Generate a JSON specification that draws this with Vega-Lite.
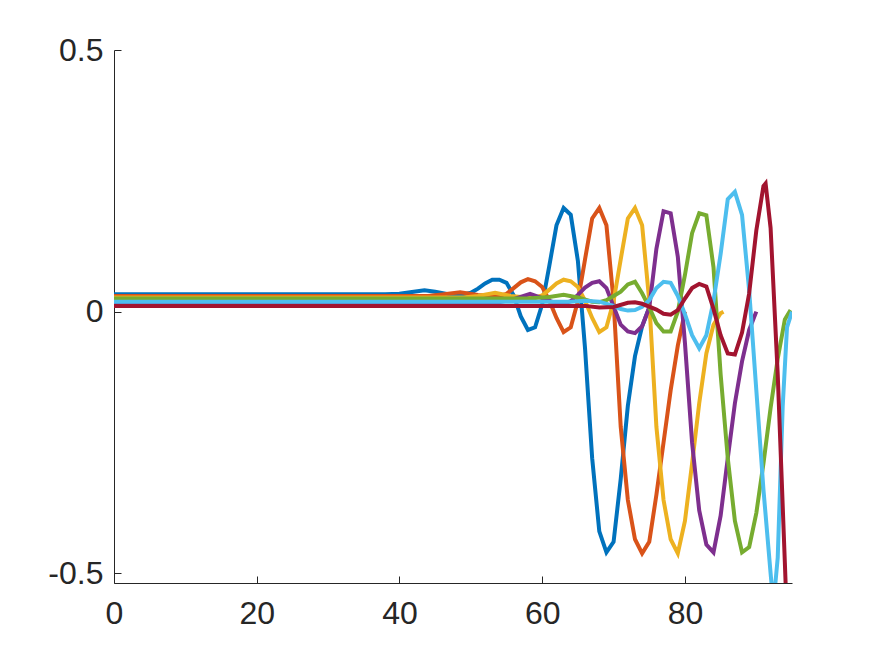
{
  "$schema": "https://vega.github.io/schema/vega-lite/v6.json",
  "autosize": "none",
  "width": 678,
  "height": 533,
  "padding": {"left": 114, "top": 50, "right": 83, "bottom": 73},
  "background": "white",
  "config": {"view": {"stroke": null}, "font": "Liberation Sans"},
  "datasets": {
    "pts": [
      {"s":"1","x":0,"y":0.033},{"s":"1","x":38,"y":0.033},{"s":"1","x":40,"y":0.034},{"s":"1","x":42,"y":0.038},{"s":"1","x":43.5,"y":0.041},{"s":"1","x":45,"y":0.038},{"s":"1","x":47,"y":0.033},{"s":"1","x":49,"y":0.033},{"s":"1","x":50,"y":0.036},{"s":"1","x":51,"y":0.044},{"s":"1","x":52,"y":0.054},{"s":"1","x":53,"y":0.061},{"s":"1","x":54,"y":0.061},{"s":"1","x":55,"y":0.055},{"s":"1","x":56,"y":0.031},{"s":"1","x":57,"y":-0.009},{"s":"1","x":58,"y":-0.035},{"s":"1","x":59,"y":-0.03},{"s":"1","x":60,"y":0.014},{"s":"1","x":61,"y":0.088},{"s":"1","x":62,"y":0.165},{"s":"1","x":63,"y":0.198},{"s":"1","x":64,"y":0.185},{"s":"1","x":65,"y":0.097},{"s":"1","x":66,"y":-0.07},{"s":"1","x":67,"y":-0.28},{"s":"1","x":68,"y":-0.42},{"s":"1","x":69,"y":-0.46},{"s":"1","x":70,"y":-0.44},{"s":"1","x":71,"y":-0.32},{"s":"1","x":72,"y":-0.18},{"s":"1","x":73,"y":-0.085},{"s":"1","x":74,"y":-0.028},{"s":"1","x":75,"y":0.008},
      {"s":"2","x":0,"y":0.030},{"s":"2","x":44,"y":0.030},{"s":"2","x":46,"y":0.033},{"s":"2","x":48.5,"y":0.037},{"s":"2","x":51,"y":0.032},{"s":"2","x":53,"y":0.030},{"s":"2","x":54,"y":0.030},{"s":"2","x":55,"y":0.034},{"s":"2","x":56,"y":0.045},{"s":"2","x":57,"y":0.056},{"s":"2","x":58,"y":0.062},{"s":"2","x":59,"y":0.058},{"s":"2","x":60,"y":0.047},{"s":"2","x":61,"y":0.021},{"s":"2","x":62,"y":-0.012},{"s":"2","x":63,"y":-0.039},{"s":"2","x":64,"y":-0.03},{"s":"2","x":65,"y":0.02},{"s":"2","x":66,"y":0.10},{"s":"2","x":67,"y":0.178},{"s":"2","x":68,"y":0.198},{"s":"2","x":69,"y":0.165},{"s":"2","x":70,"y":0.02},{"s":"2","x":71,"y":-0.22},{"s":"2","x":72,"y":-0.36},{"s":"2","x":73,"y":-0.435},{"s":"2","x":74,"y":-0.462},{"s":"2","x":75,"y":-0.44},{"s":"2","x":76,"y":-0.35},{"s":"2","x":77,"y":-0.25},{"s":"2","x":78,"y":-0.15},{"s":"2","x":79,"y":-0.065},{"s":"2","x":80,"y":0.0},
      {"s":"3","x":0,"y":0.027},{"s":"3","x":49,"y":0.027},{"s":"3","x":51,"y":0.030},{"s":"3","x":53.4,"y":0.036},{"s":"3","x":55.5,"y":0.030},{"s":"3","x":58,"y":0.027},{"s":"3","x":59,"y":0.027},{"s":"3","x":60,"y":0.031},{"s":"3","x":61,"y":0.042},{"s":"3","x":62,"y":0.054},{"s":"3","x":63,"y":0.061},{"s":"3","x":64,"y":0.058},{"s":"3","x":65,"y":0.047},{"s":"3","x":66,"y":0.021},{"s":"3","x":67,"y":-0.012},{"s":"3","x":68,"y":-0.039},{"s":"3","x":69,"y":-0.03},{"s":"3","x":70,"y":0.02},{"s":"3","x":71,"y":0.10},{"s":"3","x":72,"y":0.178},{"s":"3","x":73,"y":0.198},{"s":"3","x":74,"y":0.165},{"s":"3","x":75,"y":0.02},{"s":"3","x":76,"y":-0.22},{"s":"3","x":77,"y":-0.36},{"s":"3","x":78,"y":-0.435},{"s":"3","x":79,"y":-0.462},{"s":"3","x":80,"y":-0.40},{"s":"3","x":81,"y":-0.29},{"s":"3","x":82,"y":-0.175},{"s":"3","x":83,"y":-0.08},{"s":"3","x":84,"y":-0.025},{"s":"3","x":85,"y":-0.003},{"s":"3","x":85.4,"y":0.0},
      {"s":"4","x":0,"y":0.017},{"s":"4","x":50,"y":0.017},{"s":"4","x":52,"y":0.019},{"s":"4","x":54,"y":0.018},{"s":"4","x":56,"y":0.024},{"s":"4","x":58.3,"y":0.034},{"s":"4","x":60,"y":0.026},{"s":"4","x":62,"y":0.016},{"s":"4","x":63,"y":0.015},{"s":"4","x":64,"y":0.020},{"s":"4","x":65,"y":0.032},{"s":"4","x":66,"y":0.046},{"s":"4","x":67,"y":0.055},{"s":"4","x":68,"y":0.058},{"s":"4","x":69,"y":0.045},{"s":"4","x":70,"y":0.01},{"s":"4","x":71,"y":-0.025},{"s":"4","x":72,"y":-0.038},{"s":"4","x":73,"y":-0.041},{"s":"4","x":74,"y":-0.028},{"s":"4","x":75,"y":0.008},{"s":"4","x":76,"y":0.12},{"s":"4","x":77,"y":0.192},{"s":"4","x":78,"y":0.188},{"s":"4","x":79,"y":0.105},{"s":"4","x":80,"y":-0.06},{"s":"4","x":81,"y":-0.25},{"s":"4","x":82,"y":-0.38},{"s":"4","x":83,"y":-0.445},{"s":"4","x":84,"y":-0.46},{"s":"4","x":85,"y":-0.39},{"s":"4","x":86,"y":-0.28},{"s":"4","x":87,"y":-0.175},{"s":"4","x":88,"y":-0.095},{"s":"4","x":89,"y":-0.035},{"s":"4","x":90,"y":0.0},
      {"s":"5","x":0,"y":0.025},{"s":"5","x":58,"y":0.025},{"s":"5","x":61,"y":0.028},{"s":"5","x":63,"y":0.032},{"s":"5","x":65,"y":0.027},{"s":"5","x":67,"y":0.019},{"s":"5","x":68,"y":0.018},{"s":"5","x":69,"y":0.022},{"s":"5","x":70,"y":0.030},{"s":"5","x":71,"y":0.038},{"s":"5","x":72,"y":0.052},{"s":"5","x":73,"y":0.057},{"s":"5","x":74,"y":0.035},{"s":"5","x":75,"y":0.008},{"s":"5","x":76,"y":-0.022},{"s":"5","x":77,"y":-0.038},{"s":"5","x":78,"y":-0.038},{"s":"5","x":79,"y":0.0},{"s":"5","x":80,"y":0.07},{"s":"5","x":81,"y":0.15},{"s":"5","x":82,"y":0.188},{"s":"5","x":83,"y":0.184},{"s":"5","x":84,"y":0.085},{"s":"5","x":85,"y":-0.12},{"s":"5","x":86,"y":-0.28},{"s":"5","x":87,"y":-0.40},{"s":"5","x":88,"y":-0.46},{"s":"5","x":89,"y":-0.45},{"s":"5","x":90,"y":-0.385},{"s":"5","x":91,"y":-0.29},{"s":"5","x":92,"y":-0.184},{"s":"5","x":93,"y":-0.09},{"s":"5","x":94,"y":-0.015},{"s":"5","x":94.8,"y":0.003},
      {"s":"6","x":0,"y":0.019},{"s":"6","x":64,"y":0.019},{"s":"6","x":66,"y":0.021},{"s":"6","x":68,"y":0.019},{"s":"6","x":70,"y":0.011},{"s":"6","x":71,"y":0.005},{"s":"6","x":72,"y":0.002},{"s":"6","x":73,"y":0.003},{"s":"6","x":74,"y":0.009},{"s":"6","x":75,"y":0.022},{"s":"6","x":76,"y":0.045},{"s":"6","x":77,"y":0.057},{"s":"6","x":78,"y":0.055},{"s":"6","x":79,"y":0.03},{"s":"6","x":80,"y":-0.005},{"s":"6","x":81,"y":-0.045},{"s":"6","x":82,"y":-0.070},{"s":"6","x":83,"y":-0.045},{"s":"6","x":84,"y":0.02},{"s":"6","x":85,"y":0.11},{"s":"6","x":86,"y":0.215},{"s":"6","x":87,"y":0.229},{"s":"6","x":88,"y":0.185},{"s":"6","x":89,"y":0.04},{"s":"6","x":90,"y":-0.15},{"s":"6","x":91,"y":-0.34},{"s":"6","x":92,"y":-0.50},{"s":"6","x":92.4,"y":-0.56},{"s":"6","x":93,"y":-0.47},{"s":"6","x":93.7,"y":-0.18},{"s":"6","x":94.3,"y":-0.03},{"s":"6","x":95,"y":0.0},
      {"s":"7","x":0,"y":0.011},{"s":"7","x":66,"y":0.011},{"s":"7","x":68,"y":0.008},{"s":"7","x":70,"y":0.009},{"s":"7","x":72,"y":0.017},{"s":"7","x":73,"y":0.018},{"s":"7","x":74,"y":0.015},{"s":"7","x":76,"y":0.004},{"s":"7","x":77,"y":-0.004},{"s":"7","x":78,"y":-0.006},{"s":"7","x":79,"y":0.003},{"s":"7","x":80,"y":0.025},{"s":"7","x":81,"y":0.045},{"s":"7","x":82,"y":0.053},{"s":"7","x":83,"y":0.048},{"s":"7","x":84,"y":0.005},{"s":"7","x":85,"y":-0.045},{"s":"7","x":86,"y":-0.08},{"s":"7","x":87,"y":-0.082},{"s":"7","x":88,"y":-0.04},{"s":"7","x":89,"y":0.035},{"s":"7","x":90,"y":0.155},{"s":"7","x":91,"y":0.24},{"s":"7","x":91.3,"y":0.245},{"s":"7","x":92,"y":0.16},{"s":"7","x":93,"y":-0.12},{"s":"7","x":94,"y":-0.48},{"s":"7","x":95,"y":-0.85}
    ]
  },
  "data": {"name": "pts"},
  "mark": {"type": "line", "strokeWidth": 4, "clip": true, "strokeJoin": "miter"},
  "encoding": {
    "x": {
      "field": "x", "type": "quantitative",
      "scale": {"domain": [0, 95], "nice": false, "zero": false},
      "axis": {
        "title": null, "values": [0, 20, 40, 60, 80], "grid": false,
        "domainColor": "#262626", "domainWidth": 1, "tickColor": "#262626", "tickWidth": 1,
        "tickSize": -7, "labelPadding": 22, "labelFontSize": 32, "labelColor": "#262626",
        "labelFont": "Liberation Sans", "labelFlush": false
      }
    },
    "y": {
      "field": "y", "type": "quantitative",
      "scale": {"domain": [-0.5186, 0.5], "nice": false, "zero": false},
      "axis": {
        "title": null, "values": [-0.5, 0, 0.5], "grid": false,
        "labelExpr": "datum.value < -0.1 ? '-0.5' : (datum.value > 0.1 ? '0.5' : '0')",
        "domainColor": "#262626", "domainWidth": 1, "tickColor": "#262626", "tickWidth": 1,
        "tickSize": -7, "labelPadding": 18, "labelFontSize": 32, "labelColor": "#262626",
        "labelFont": "Liberation Sans", "labelFlush": false
      }
    },
    "color": {
      "field": "s", "type": "nominal", "legend": null,
      "scale": {"domain": ["1","2","3","4","5","6","7"], "range": ["#0072BD","#D95319","#EDB120","#7E2F8E","#77AC30","#4DBEEE","#A2142F"]}
    }
  }
}
